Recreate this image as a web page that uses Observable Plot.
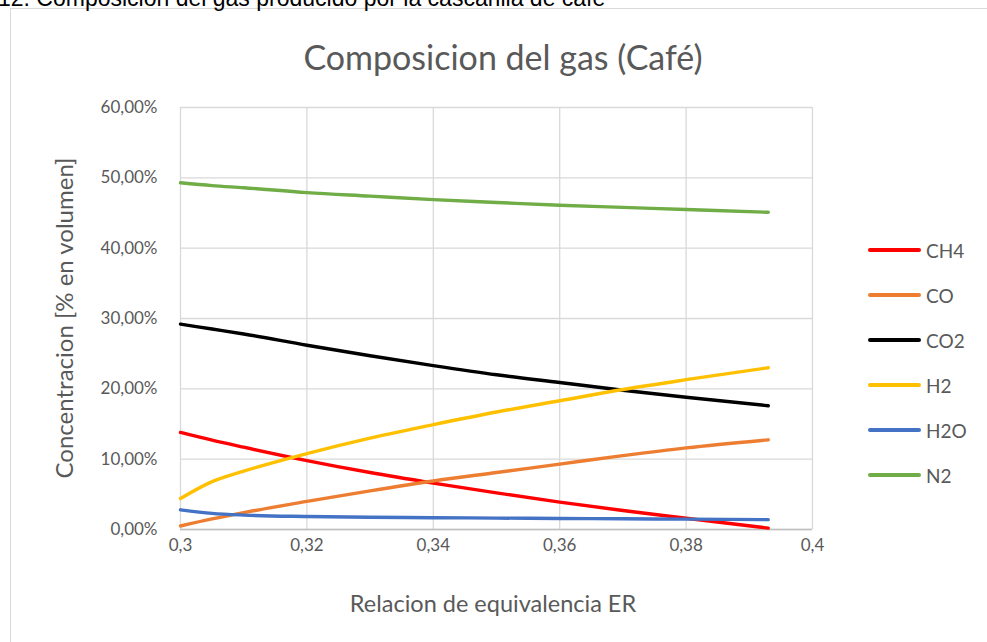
<!DOCTYPE html>
<html>
<head>
<meta charset="utf-8">
<script src="https://cdn.jsdelivr.net/npm/d3@7"></script>
<script src="https://cdn.jsdelivr.net/npm/@observablehq/plot@0.6"></script>
<style>
  html, body { margin: 0; padding: 0; background: #fff; overflow: hidden; }
  #wrap { position: relative; width: 987px; height: 642px; font-family: Lato, "Noto Sans", sans-serif; }
  #wrap svg { position: absolute; left: 0; top: 0; }
  .abs { position: absolute; white-space: nowrap; color: #595959; }
</style>
</head>
<body>
<div id="wrap"></div>
<script>
// ---- data ----
const er   = [0.3, 0.305, 0.31, 0.32, 0.33, 0.34, 0.35, 0.36, 0.37, 0.38, 0.393];
const ch4  = [13.8, 12.7, 11.7, 9.8, 8.1, 6.6, 5.2, 3.9, 2.7, 1.6, 0.2];
const co   = [0.5, 1.5, 2.4, 4.0, 5.5, 6.9, 8.1, 9.3, 10.5, 11.6, 12.75];
const co2  = [29.2, 28.5, 27.8, 26.2, 24.7, 23.3, 22.0, 20.9, 19.8, 18.8, 17.6];
const h2   = [4.4, 6.8, 8.3, 10.8, 13.0, 14.9, 16.7, 18.3, 19.9, 21.3, 23.0];
const h2o  = [2.8, 2.3, 2.05, 1.85, 1.75, 1.68, 1.62, 1.57, 1.52, 1.47, 1.4];
const n2   = [49.3, 48.9, 48.6, 47.9, 47.4, 46.9, 46.5, 46.1, 45.8, 45.5, 45.1];
const seriesNames = ["CH4", "CO", "CO2", "H2", "H2O", "N2"];
const seriesValues = [ch4, co, co2, h2, h2o, n2];
const seriesColors = ["#ff0000", "#ed7d31", "#000000", "#ffc000", "#4472c4", "#70ad47"];
const xTicks = [0.3, 0.32, 0.34, 0.36, 0.38, 0.4];
const yTicks = [0, 10, 20, 30, 40, 50, 60];
const titleText = "Composicion del gas (Café)";
const captionText = "12. Composición del gas producido por la cascarilla de café";
const xLabel = "Relacion de equivalencia ER";
const yLabel = "Concentracion [% en volumen]";

const rows = [];
seriesNames.forEach((s, i) => er.forEach((x, j) => rows.push({series: s, er: x, v: seriesValues[i][j]})));

const fmtX = d => String(+d.toFixed(2)).replace(".", ",");
const fmtY = d => d.toFixed(2).replace(".", ",") + "%";

const chart = Plot.plot({
  width: 987,
  height: 642,
  marginLeft: 180,
  marginRight: 175,
  marginTop: 107,
  marginBottom: 113,
  style: {fontFamily: "Lato, 'Noto Sans', sans-serif", fontSize: "17px", background: "transparent", overflow: "visible"},
  x: {domain: [0.3, 0.4], ticks: xTicks, tickFormat: fmtX, label: null},
  y: {domain: [0, 60], ticks: yTicks, tickFormat: fmtY, label: null},
  color: {domain: seriesNames, range: seriesColors},
  marks: [
    Plot.ruleX(xTicks, {stroke: "#d9d9d9", strokeWidth: 1.3}),
    Plot.ruleY(yTicks, {stroke: "#d9d9d9", strokeWidth: 1.3}),
    Plot.ruleY([0], {stroke: "#bfbfbf", strokeWidth: 1.5}),
    Plot.axisX({ticks: xTicks, tickFormat: fmtX, tickSize: 0, tickPadding: 9, fill: "#595959", fontSize: 17, label: null}),
    Plot.axisY({ticks: yTicks, tickFormat: fmtY, tickSize: 0, tickPadding: 23, fill: "#595959", fontSize: 17, label: null}),
    Plot.line(rows, {x: "er", y: "v", z: "series", stroke: "series", strokeWidth: 3.4, curve: "monotone-x", strokeLinecap: "round"})
  ]
});

const wrap = document.getElementById("wrap");
wrap.appendChild(chart);

// frame
const frame = document.createElement("div");
frame.style.cssText = "position:absolute;left:10px;top:8px;width:990px;height:700px;border:1.3px solid #d9d9d9;box-sizing:border-box;";
wrap.appendChild(frame);

// caption (top of page, partly above the window as in the reference)
const cap = document.createElement("div");
cap.className = "abs";
cap.textContent = captionText;
cap.style.cssText += "left:-2px;top:-15px;font-family:'Liberation Sans',Arial,sans-serif;font-size:23px;color:#000;";
wrap.appendChild(cap);

// title
const title = document.createElement("div");
title.className = "abs";
title.textContent = titleText;
title.style.cssText += "left:503px;top:56px;transform:translate(-50%,-50%);font-size:34px;";
wrap.appendChild(title);

// x label
const xl = document.createElement("div");
xl.className = "abs";
xl.textContent = xLabel;
xl.style.cssText += "left:493px;top:603px;transform:translate(-50%,-50%);font-size:23.5px;";
wrap.appendChild(xl);

// y label
const yl = document.createElement("div");
yl.className = "abs";
yl.textContent = yLabel;
yl.style.cssText += "left:63px;top:318px;transform:translate(-50%,-50%) rotate(-90deg);font-size:24px;";
wrap.appendChild(yl);

// legend
seriesNames.forEach((s, i) => {
  const y = 250 + i * 45;
  const ln = document.createElement("div");
  ln.style.cssText = `position:absolute;left:868px;top:${y - 1.7}px;width:53px;height:3.4px;border-radius:2px;background:${seriesColors[i]};`;
  wrap.appendChild(ln);
  const t = document.createElement("div");
  t.className = "abs";
  t.textContent = s;
  t.style.cssText += `left:926px;top:${y}px;transform:translateY(-50%);font-size:19px;`;
  wrap.appendChild(t);
});
</script>
</body>
</html>
